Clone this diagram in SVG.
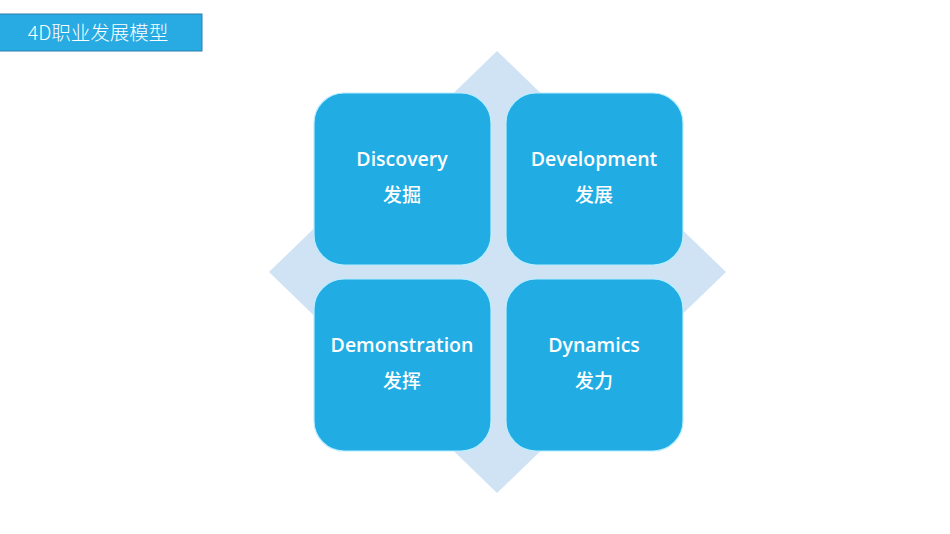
<svg xmlns="http://www.w3.org/2000/svg" width="950" height="534" viewBox="0 0 950 534">
<style>
.box{fill:#21ACE4;stroke:#B8EEFF;stroke-width:1.2}
.t{font-family:"Open Sans","Noto Sans","Noto Sans CJK SC",sans-serif;font-size:19.5px;font-weight:600;fill:#FFFFFF;text-anchor:middle}
.c{font-family:"Noto Sans CJK SC",sans-serif;font-size:19px;font-weight:500;fill:#FFFFFF;text-anchor:middle}
</style>
<rect width="950" height="534" fill="#FFFFFF"/>
<g id="title">
<rect x="-1" y="14" width="203" height="37" fill="#27ABE2" stroke="#2D7FAE" stroke-width="1"/>
<text x="98" y="39.5" font-family="Noto Sans CJK SC,sans-serif" font-size="19.5" font-weight="300" fill="#FFFFFF" text-anchor="middle">4D职业发展模型</text>
</g>
<g id="diamond">
<polygon points="497,51 726,272 497,493 269,272" fill="#D0E3F5"/>
</g>
<g id="discovery">
<rect class="box" x="314" y="93" width="177" height="172" rx="30"/>
<text class="t" x="402" y="166">Discovery</text>
<text class="c" x="402" y="202">发掘</text>
</g>
<g id="development">
<rect class="box" x="506" y="93" width="177" height="172" rx="30"/>
<text class="t" x="594" y="166">Development</text>
<text class="c" x="594" y="202">发展</text>
</g>
<g id="demonstration">
<rect class="box" x="314" y="279" width="177" height="172" rx="30"/>
<text class="t" x="402" y="352">Demonstration</text>
<text class="c" x="402" y="388">发挥</text>
</g>
<g id="dynamics">
<rect class="box" x="506" y="279" width="177" height="172" rx="30"/>
<text class="t" x="594" y="352">Dynamics</text>
<text class="c" x="594" y="388">发力</text>
</g>
<g id="connectors"/>
</svg>
